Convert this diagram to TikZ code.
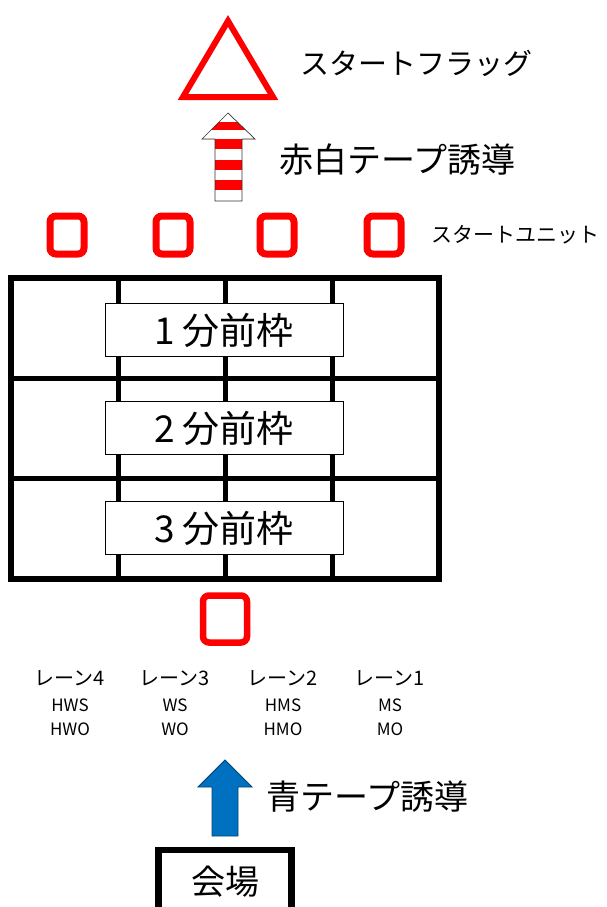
\documentclass[tikz,border=0pt]{standalone}
\usepackage{fontspec}
\setmainfont{Noto Sans CJK JP}
\usetikzlibrary{positioning}
\definecolor{tapeblue}{HTML}{0070C0}

\begin{document}
\begin{tikzpicture}[x=1pt,y=-1pt,
    unit/.style={draw=red,line width=7pt,rounded corners=6pt,minimum width=34pt,minimum height=38pt,inner sep=0pt},
    gateunit/.style={unit,line width=6.5pt,minimum width=44pt,minimum height=47pt},
    frame/.style={draw,fill=white,line width=0.9pt,minimum width=238pt,minimum height=53pt,inner sep=0pt,font=\fontsize{37}{40}\selectfont},
    biglabel/.style={font=\fontsize{34}{38}\selectfont},
    lanetitle/.style={font=\fontsize{20}{24}\selectfont},
    laneclass/.style={align=center,font=\fontsize{17}{24}\selectfont}]
    \useasboundingbox (0,0) rectangle (607,907);

    % start flag
    \draw[red,line width=6pt] (228,21) -- (273,97) -- (183,97) -- cycle;
    \node[font=\fontsize{29}{32}\selectfont] (flag) at (416,63) {スタートフラッグ};

    % red-white tape arrow
    \begin{scope}
        \clip (228,113) -- (255,139) -- (242,139) -- (242,201) -- (215,201) -- (215,139) -- (202,139) -- cycle;
        \fill[red] (200,122) rectangle (257,130);
        \foreach \y in {139,160,180}
            \fill[red] (200,\y) rectangle (257,\y+10);
    \end{scope}
    \draw[line width=0.7pt,black!80] (228,113) -- (255,139) -- (242,139) -- (242,201) -- (215,201) -- (215,139) -- (202,139) -- cycle;
    \node[biglabel] (redtape) at (397,160) {赤白テープ誘導};

    % start units
    \foreach \x/\n in {67/4,173/3,277/2,384/1}
        \node[unit] (su_\n) at (\x,235) {};
    \node[font=\fontsize{21}{24}\selectfont] (sulabel) at (515,235) {スタートユニット};

    % lanes
    \draw[line width=6pt] (11,278) rectangle (439,579);
    \foreach \y in {378,478}
        \draw[line width=5pt] (11,\y) -- (439,\y);
    \foreach \x in {118,225,332}
        \draw[line width=5pt] (\x,278) -- (\x,579);
    \node[frame] (f_1) at (224,330) {1\hspace{7pt}分前枠};
    \node[frame] (f_2) at (224,428) {2\hspace{7pt}分前枠};
    \node[frame] (f_3) at (224,528) {3\hspace{7pt}分前枠};

    \node[gateunit] (gate) at (225,619) {};

    \foreach \x/\n/\a/\b in {70/4/HWS/HWO,175/3/WS/WO,283/2/HMS/HMO,390/1/MS/MO} {
        \node[lanetitle] (lane_\n) at (\x,678) {レーン\n};
        \node[laneclass] (cls_\n) at (\x,717) {\a\\\b};
    }

    % blue tape arrow
    \draw[fill=tapeblue,draw=tapeblue!60!black,line width=0.8pt] (225,760) -- (252,787) -- (238,787) -- (238,836) -- (212,836) -- (212,787) -- (198,787) -- cycle;
    \node[biglabel] (bluetape) at (367,797) {青テープ誘導};

    \node[draw,line width=6.5pt,minimum width=133pt,minimum height=64pt,font=\fontsize{34}{38}\selectfont] (venue) at (225,882) {会場};
\end{tikzpicture}
\end{document}
